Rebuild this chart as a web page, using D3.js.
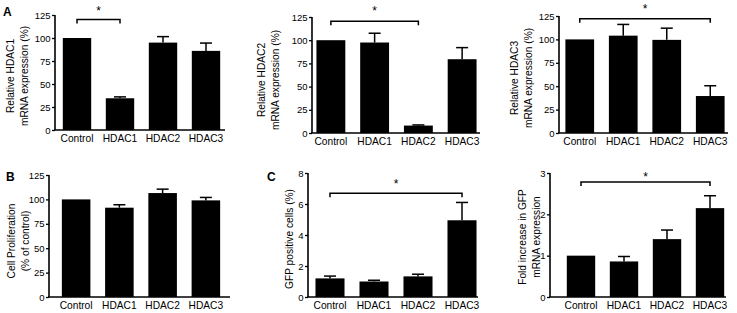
<!DOCTYPE html>
<html>
<head>
<meta charset="utf-8">
<script src="https://cdn.jsdelivr.net/npm/d3@7"></script>
<style>
html,body{margin:0;padding:0;background:#fff;}
svg{display:block;font-family:"Liberation Sans",Arial,sans-serif;}
</style>
</head>
<body>
<svg id="chart" width="737" height="313"></svg>
<script>
// ---------- data ----------
const categories = ["Control", "HDAC1", "HDAC2", "HDAC3"];

const hdac1Values = [100, 34.5, 95, 86];
const hdac1Errors = [0, 1.5, 6.5, 8.5];

const hdac2Values = [100, 97.5, 8, 79.5];
const hdac2Errors = [0, 10, 0.7, 12.5];

const hdac3Values = [100, 104, 99.5, 39.5];
const hdac3Errors = [0, 12, 12.5, 11];

const prolifValues = [100, 91.5, 106.5, 99];
const prolifErrors = [0, 3, 4, 3];

const gfpCellValues = [1.2, 1.0, 1.33, 4.95];
const gfpCellErrors = [0.15, 0.08, 0.14, 1.15];

const gfpMrnaValues = [1.0, 0.86, 1.4, 2.15];
const gfpMrnaErrors = [0, 0.12, 0.22, 0.3];

const pctTicks = [0, 25, 50, 75, 100, 125];
const gfpCellTicks = [0, 2, 4, 6, 8];
const gfpMrnaTicks = [0, 1, 2, 3];

// significance brackets: [from category, to category, level in data units]
const sigHdac1 = ["Control", "HDAC1", 120];
const sigHdac2 = ["Control", "HDAC2", 120.5];
const sigHdac3 = ["Control", "HDAC3", 122];
const sigGfpCell = ["Control", "HDAC3", 6.7];
const sigGfpMrna = ["Control", "HDAC3", 2.78];

// ---------- layout ----------
const panels = [
  {values: hdac1Values, errors: hdac1Errors, ticks: pctTicks, sig: sigHdac1,
   title: ["Relative HDAC1", "mRNA expression (%)"], letter: "A",
   axisX: 55, axisEnd: 225, top: 15, bottom: 130, band: [55.5, 227.5],
   titleX: 17.5, titleY: 76, letterX: 3, letterY: 16, starDy: 15},
  {values: hdac2Values, errors: hdac2Errors, ticks: pctTicks, sig: sigHdac2,
   title: ["Relative HDAC2", "mRNA expression (%)"],
   axisX: 312, axisEnd: 480, top: 17, bottom: 133, band: [309, 484],
   titleX: 268.5, titleY: 80, starDy: 16},
  {values: hdac3Values, errors: hdac3Errors, ticks: pctTicks, sig: sigHdac3,
   title: ["Relative HDAC3", "mRNA expression (%)"],
   axisX: 559, axisEnd: 728, top: 16, bottom: 133, band: [558, 732],
   titleX: 521.5, titleY: 78, starDy: 16},
  {values: prolifValues, errors: prolifErrors, ticks: pctTicks, sig: null,
   title: ["Cell Proliferation", "(% of control)"], letter: "B",
   axisX: 49, axisEnd: 230, top: 175, bottom: 297, band: [54.5, 227.5],
   titleX: 18.5, titleY: 241, letterX: 6, letterY: 181},
  {values: gfpCellValues, errors: gfpCellErrors, ticks: gfpCellTicks, sig: sigGfpCell,
   title: ["GFP positive cells (%)"], letter: "C",
   axisX: 308, axisEnd: 478, top: 173, bottom: 297, band: [308, 484],
   titleX: 289, titleY: 239, letterX: 267, letterY: 181, starDy: 15},
  {values: gfpMrnaValues, errors: gfpMrnaErrors, ticks: gfpMrnaTicks, sig: sigGfpMrna,
   title: ["Fold increase in GFP", "mRNA expression"],
   axisX: 550, axisEnd: 726, top: 173, bottom: 297, band: [559.5, 731.5],
   titleX: 529.5, titleY: 237, starDy: 11}
];

const svg = d3.select("#chart");

panels.forEach(p => {
  const g = svg.append("g");
  const yMax = p.ticks[p.ticks.length - 1];
  const y = d3.scaleLinear().domain([0, yMax]).range([p.bottom, p.top]);
  const x = d3.scaleBand().domain(categories).range(p.band)
    .paddingInner(0.34).paddingOuter(0.17);

  // bars
  g.selectAll("rect.bar").data(categories).enter().append("rect")
    .attr("class", "bar")
    .attr("x", d => x(d))
    .attr("width", x.bandwidth())
    .attr("y", (d, i) => y(p.values[i]))
    .attr("height", (d, i) => p.bottom - y(p.values[i]))
    .attr("fill", "#000");

  // error bars
  categories.forEach((c, i) => {
    if (!p.errors[i]) return;
    const cx = x(c) + x.bandwidth() / 2;
    const y0 = y(p.values[i]);
    const y1 = y(p.values[i] + p.errors[i]);
    g.append("line").attr("x1", cx).attr("x2", cx).attr("y1", y0).attr("y2", y1)
      .attr("stroke", "#000").attr("stroke-width", 1.5);
    g.append("line").attr("x1", cx - 6).attr("x2", cx + 6).attr("y1", y1).attr("y2", y1)
      .attr("stroke", "#000").attr("stroke-width", 1.5);
  });

  // y axis
  const yAxis = d3.axisLeft(y).tickValues(p.ticks).tickSize(3).tickPadding(1.5)
    .tickFormat(d3.format("d"));
  const ya = g.append("g").attr("transform", `translate(${p.axisX},0)`).call(yAxis);
  ya.select(".domain").attr("d", `M0,${p.top}V${p.bottom}`).attr("stroke-width", 1.6);
  ya.selectAll(".tick line").attr("stroke-width", 1.3);
  ya.selectAll("text").attr("font-size", 9.5).attr("fill", "#000")
    .attr("font-family", "Liberation Sans, Arial, sans-serif");

  // x axis line
  g.append("line").attr("x1", p.axisX - 0.8).attr("x2", p.axisEnd)
    .attr("y1", p.bottom).attr("y2", p.bottom)
    .attr("stroke", "#000").attr("stroke-width", 1.6);

  // category labels
  const xAxis = d3.axisBottom(x).tickSize(0).tickPadding(5);
  const xa = g.append("g").attr("transform", `translate(0,${p.bottom})`).call(xAxis);
  xa.select(".domain").remove();
  xa.selectAll("text").attr("font-size", 10.2).attr("fill", "#000")
    .attr("font-family", "Liberation Sans, Arial, sans-serif");

  // y title
  const n = p.title.length;
  p.title.forEach((t, k) => {
    const tx = p.titleX + (k - (n - 1) / 2) * 14.5;
    g.append("text")
      .attr("transform", `translate(${tx},${p.titleY}) rotate(-90)`)
      .attr("text-anchor", "middle").attr("dy", "0.35em")
      .attr("font-size", 10.2).attr("fill", "#000").text(t);
  });

  // panel letter
  if (p.letter) {
    g.append("text").attr("x", p.letterX).attr("y", p.letterY)
      .attr("font-size", 12).attr("font-weight", "bold").attr("fill", "#000").text(p.letter);
  }

  // significance bracket
  if (p.sig) {
    const xa1 = x(p.sig[0]) + x.bandwidth() / 2;
    const xa2 = x(p.sig[1]) + x.bandwidth() / 2;
    const yb = y(p.sig[2]);
    g.append("path")
      .attr("d", `M${xa1},${yb + 4}V${yb}H${xa2}V${yb + 4}`)
      .attr("fill", "none").attr("stroke", "#000").attr("stroke-width", 1.5);
    g.append("text").attr("x", (xa1 + xa2) / 2).attr("y", yb - p.starDy + 10)
      .attr("text-anchor", "middle").attr("font-size", 12).attr("fill", "#000").text("*");
  }
});
</script>
</body>
</html>
